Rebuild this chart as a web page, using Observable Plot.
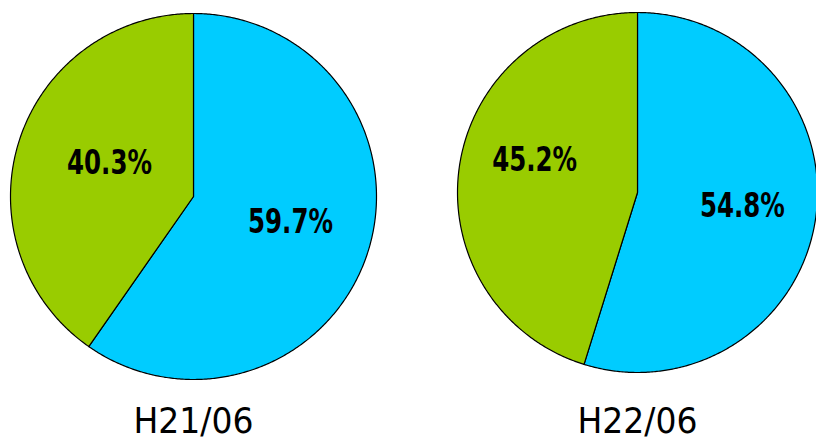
<!DOCTYPE html>
<html><head><meta charset="utf-8">
<script src="https://cdn.jsdelivr.net/npm/d3@7"></script>
<script src="https://cdn.jsdelivr.net/npm/@observablehq/plot@0.6"></script>
<style>body{margin:0;background:#fff}</style>
</head><body><div id="chart"></div>
<script>
// ---- data ----
const periods = ["H21/06", "H22/06"];
const categories = ["A", "B"];
const valuesH21 = [59.7, 40.3];
const valuesH22 = [54.8, 45.2];
const sliceColors = ["#00CCFF", "#99CC00"];

// ---- layout ----
const W = 816, H = 443;
const layout = [
  {cx: 193, cy: 196, r: 183, nudge: [[1, -5], [12, -3]]},
  {cx: 637, cy: 192, r: 180, nudge: [[7, -1], [-5, -18]]}
];
const titleY = 421;
const labelRatio = 0.55;

const pies = [valuesH21, valuesH22].map((values, i) => ({period: periods[i], values, ...layout[i]}));

const slicePts = [], labels = [], titles = [];
pies.forEach(p => {
  const arcs = d3.pie().sort(null).value(d => d)(p.values);
  arcs.forEach((a, i) => {
    const key = p.period + "-" + i, cat = categories[i];
    const n = Math.max(2, Math.ceil((a.endAngle - a.startAngle) / (Math.PI / 360)));
    slicePts.push({key, cat, x: p.cx, y: p.cy});
    for (let k = 0; k <= n; k++) {
      const t = a.startAngle + (a.endAngle - a.startAngle) * k / n;
      slicePts.push({key, cat, x: p.cx + p.r * Math.sin(t), y: p.cy - p.r * Math.cos(t)});
    }
    slicePts.push({key, cat, x: p.cx, y: p.cy});
    const m = (a.startAngle + a.endAngle) / 2;
    labels.push({
      x: p.cx + labelRatio * p.r * Math.sin(m) + p.nudge[i][0],
      y: p.cy - labelRatio * p.r * Math.cos(m) + p.nudge[i][1],
      text: p.values[i].toFixed(1) + "%"
    });
  });
  titles.push({x: p.cx, y: titleY, text: p.period});
});

const chart = Plot.plot({
  width: W, height: H, margin: 0,
  x: {domain: [0, W], range: [0, W], axis: null},
  y: {domain: [0, H], range: [0, H], axis: null},
  color: {domain: categories, range: sliceColors},
  marks: [
    Plot.line(slicePts, {x: "x", y: "y", z: "key", fill: "cat", stroke: "black", strokeWidth: 1.2, strokeLinejoin: "round"}),
    Plot.text(labels, {x: "x", y: "y", text: "text", fontSize: 34, fontWeight: "bold", fill: "black",
      fontFamily: "'DejaVu Sans', sans-serif", className: "pct"}),
    Plot.text(titles, {x: "x", y: "y", text: "text", fontSize: 36, fill: "black",
      fontFamily: "'DejaVu Sans', sans-serif", className: "ttl"})
  ]
});
document.getElementById("chart").append(chart);
function squeeze(sel, target) {
  chart.querySelectorAll(sel).forEach(t => {
    const w = t.getComputedTextLength();
    const s = target / w;
    t.setAttribute("transform", (t.getAttribute("transform") || "") + ` scale(${s},1)`);
  });
}
squeeze(".pct text", 85);
squeeze(".ttl text", 120);
</script>
</body></html>
